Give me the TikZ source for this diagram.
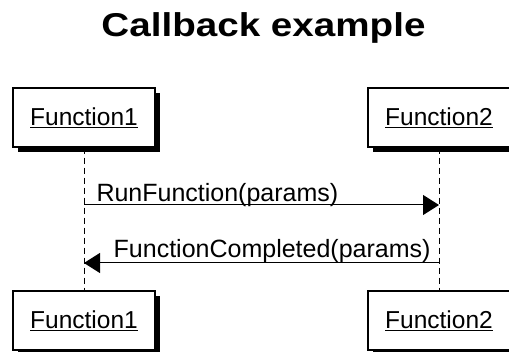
\documentclass[tikz,border=0pt]{standalone}
\usepackage{fontspec}
\setmainfont{Liberation Sans}
\usetikzlibrary{arrows.meta}
\usetikzlibrary{shadows}
\usetikzlibrary{positioning}

\tikzset{
  actor/.style={draw, line width=1.5pt, fill=white, minimum width=142pt, minimum height=59pt,
    font=\fontsize{24.5}{28}\selectfont,
    drop shadow={shadow xshift=5pt, shadow yshift=-5pt, fill=black, opacity=1}},
  lifeline/.style={line width=1pt, dash pattern=on 6pt off 4pt},
  msg/.style={line width=1pt, -{Triangle[length=16pt,width=20pt]}},
  msglabel/.style={font=\fontsize{25}{28}\selectfont, inner sep=0pt}
}

\begin{document}
\begin{tikzpicture}[x=1pt, y=-1pt]
\useasboundingbox (0,0) rectangle (509,352);
\node [anchor=base, font=\bfseries\fontsize{33}{36}\selectfont] (title) at (263.5,37) {\scalebox{1.17}[1]{Callback example}};

\node [actor] (f1top) at (84,117.5) {\underline{Function1}};
\node [actor] (f2top) at (439,117.5) {\underline{Function2}};
\node [actor] (f1bot) at (84,320.5) {\underline{Function1}};
\node [actor] (f2bot) at (439,320.5) {\underline{Function2}};

\draw [lifeline] (f1top.south) -- (f1bot.north);
\draw [lifeline] (f2top.south) -- (f2bot.north);

\coordinate (run a) at (f1top.south |- 0,205);
\coordinate (run b) at (f2top.south |- 0,205);
\coordinate (done a) at (f2top.south |- 0,263);
\coordinate (done b) at (f1top.south |- 0,263);

\draw [msg] (run a) -- (run b) node [msglabel, anchor=base west, at start, xshift=12pt, yshift=3pt] (run) {RunFunction(params)};
\draw [msg] (done a) -- (done b) node [msglabel, anchor=base east, at start, xshift=-8pt, yshift=5pt] (done) {FunctionCompleted(params)};
\end{tikzpicture}
\end{document}
